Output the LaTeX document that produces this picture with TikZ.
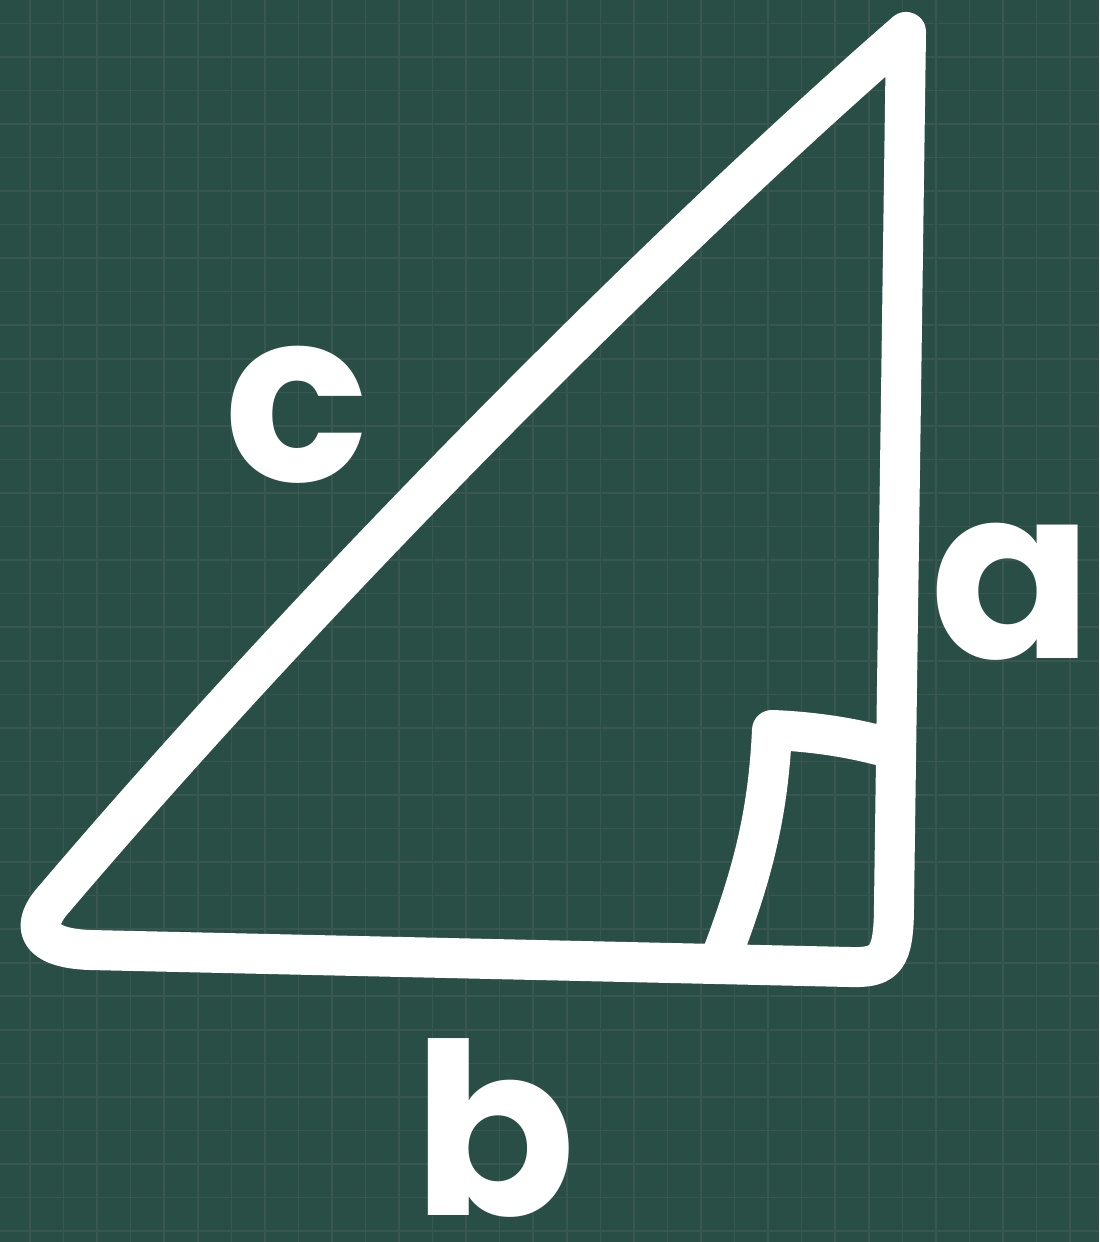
\documentclass[tikz,border=0pt]{standalone}
\usepackage{fontspec}
\newfontfamily\handfont{Poppins}
\usetikzlibrary{calc}
\definecolor{boardgreen}{HTML}{284E45}
\definecolor{boardgrid}{HTML}{3A5650}

\begin{document}
\begin{tikzpicture}[
    x=0.01cm, y=-0.01cm,
    chalk/.style={draw=white, line width=0.4cm, line cap=round, line join=round},
    gridline/.style={draw=boardgrid, line width=0.45pt},
    lbl/.style={text=white, inner sep=0pt, font=\handfont\bfseries\fontsize{68}{70}\selectfont},
]
% Board
\fill[boardgreen] (0,0) rectangle (1099,1242);
\useasboundingbox (0,0) rectangle (1099,1242);
\foreach \i in {0,...,31}
    \draw[gridline] ({30+33.55*\i},0) -- ({30+33.55*\i},1242);
\foreach \j in {0,...,36}
    \draw[gridline] (0,{23.3+33.55*\j}) -- (1099,{23.3+33.55*\j});

% Corners of the triangle
\coordinate (top) at (906,32);
\coordinate (rbot) at (894,905);
\coordinate (rfoot) at (850,967);
\coordinate (lfoot) at (90,950);
\coordinate (lbot) at (55,898);

% Triangle
\draw[chalk] (top) -- (rbot)
    .. controls (894,960) and (885,968) .. (rfoot)
    -- (lfoot) .. controls (35,948) and (30,925) .. (lbot)
    .. controls (300,610) and (650,255) .. (top) -- cycle;

% Right angle mark
\coordinate (mkside) at (878,745);
\coordinate (mkcorner) at (772,730);
\coordinate (mkbase) at (722,955);
\draw[chalk] (mkside) .. controls (840,735) and (800,731) .. (mkcorner)
    .. controls (768,820) and (750,880) .. (mkbase);

% Side labels
\node[lbl] (lblc) at (297,415) {c};
\node[lbl] (lbla) at (1012,592) {a};
\node[lbl] (lblb) at (495,1128) {b};
\end{tikzpicture}
\end{document}
